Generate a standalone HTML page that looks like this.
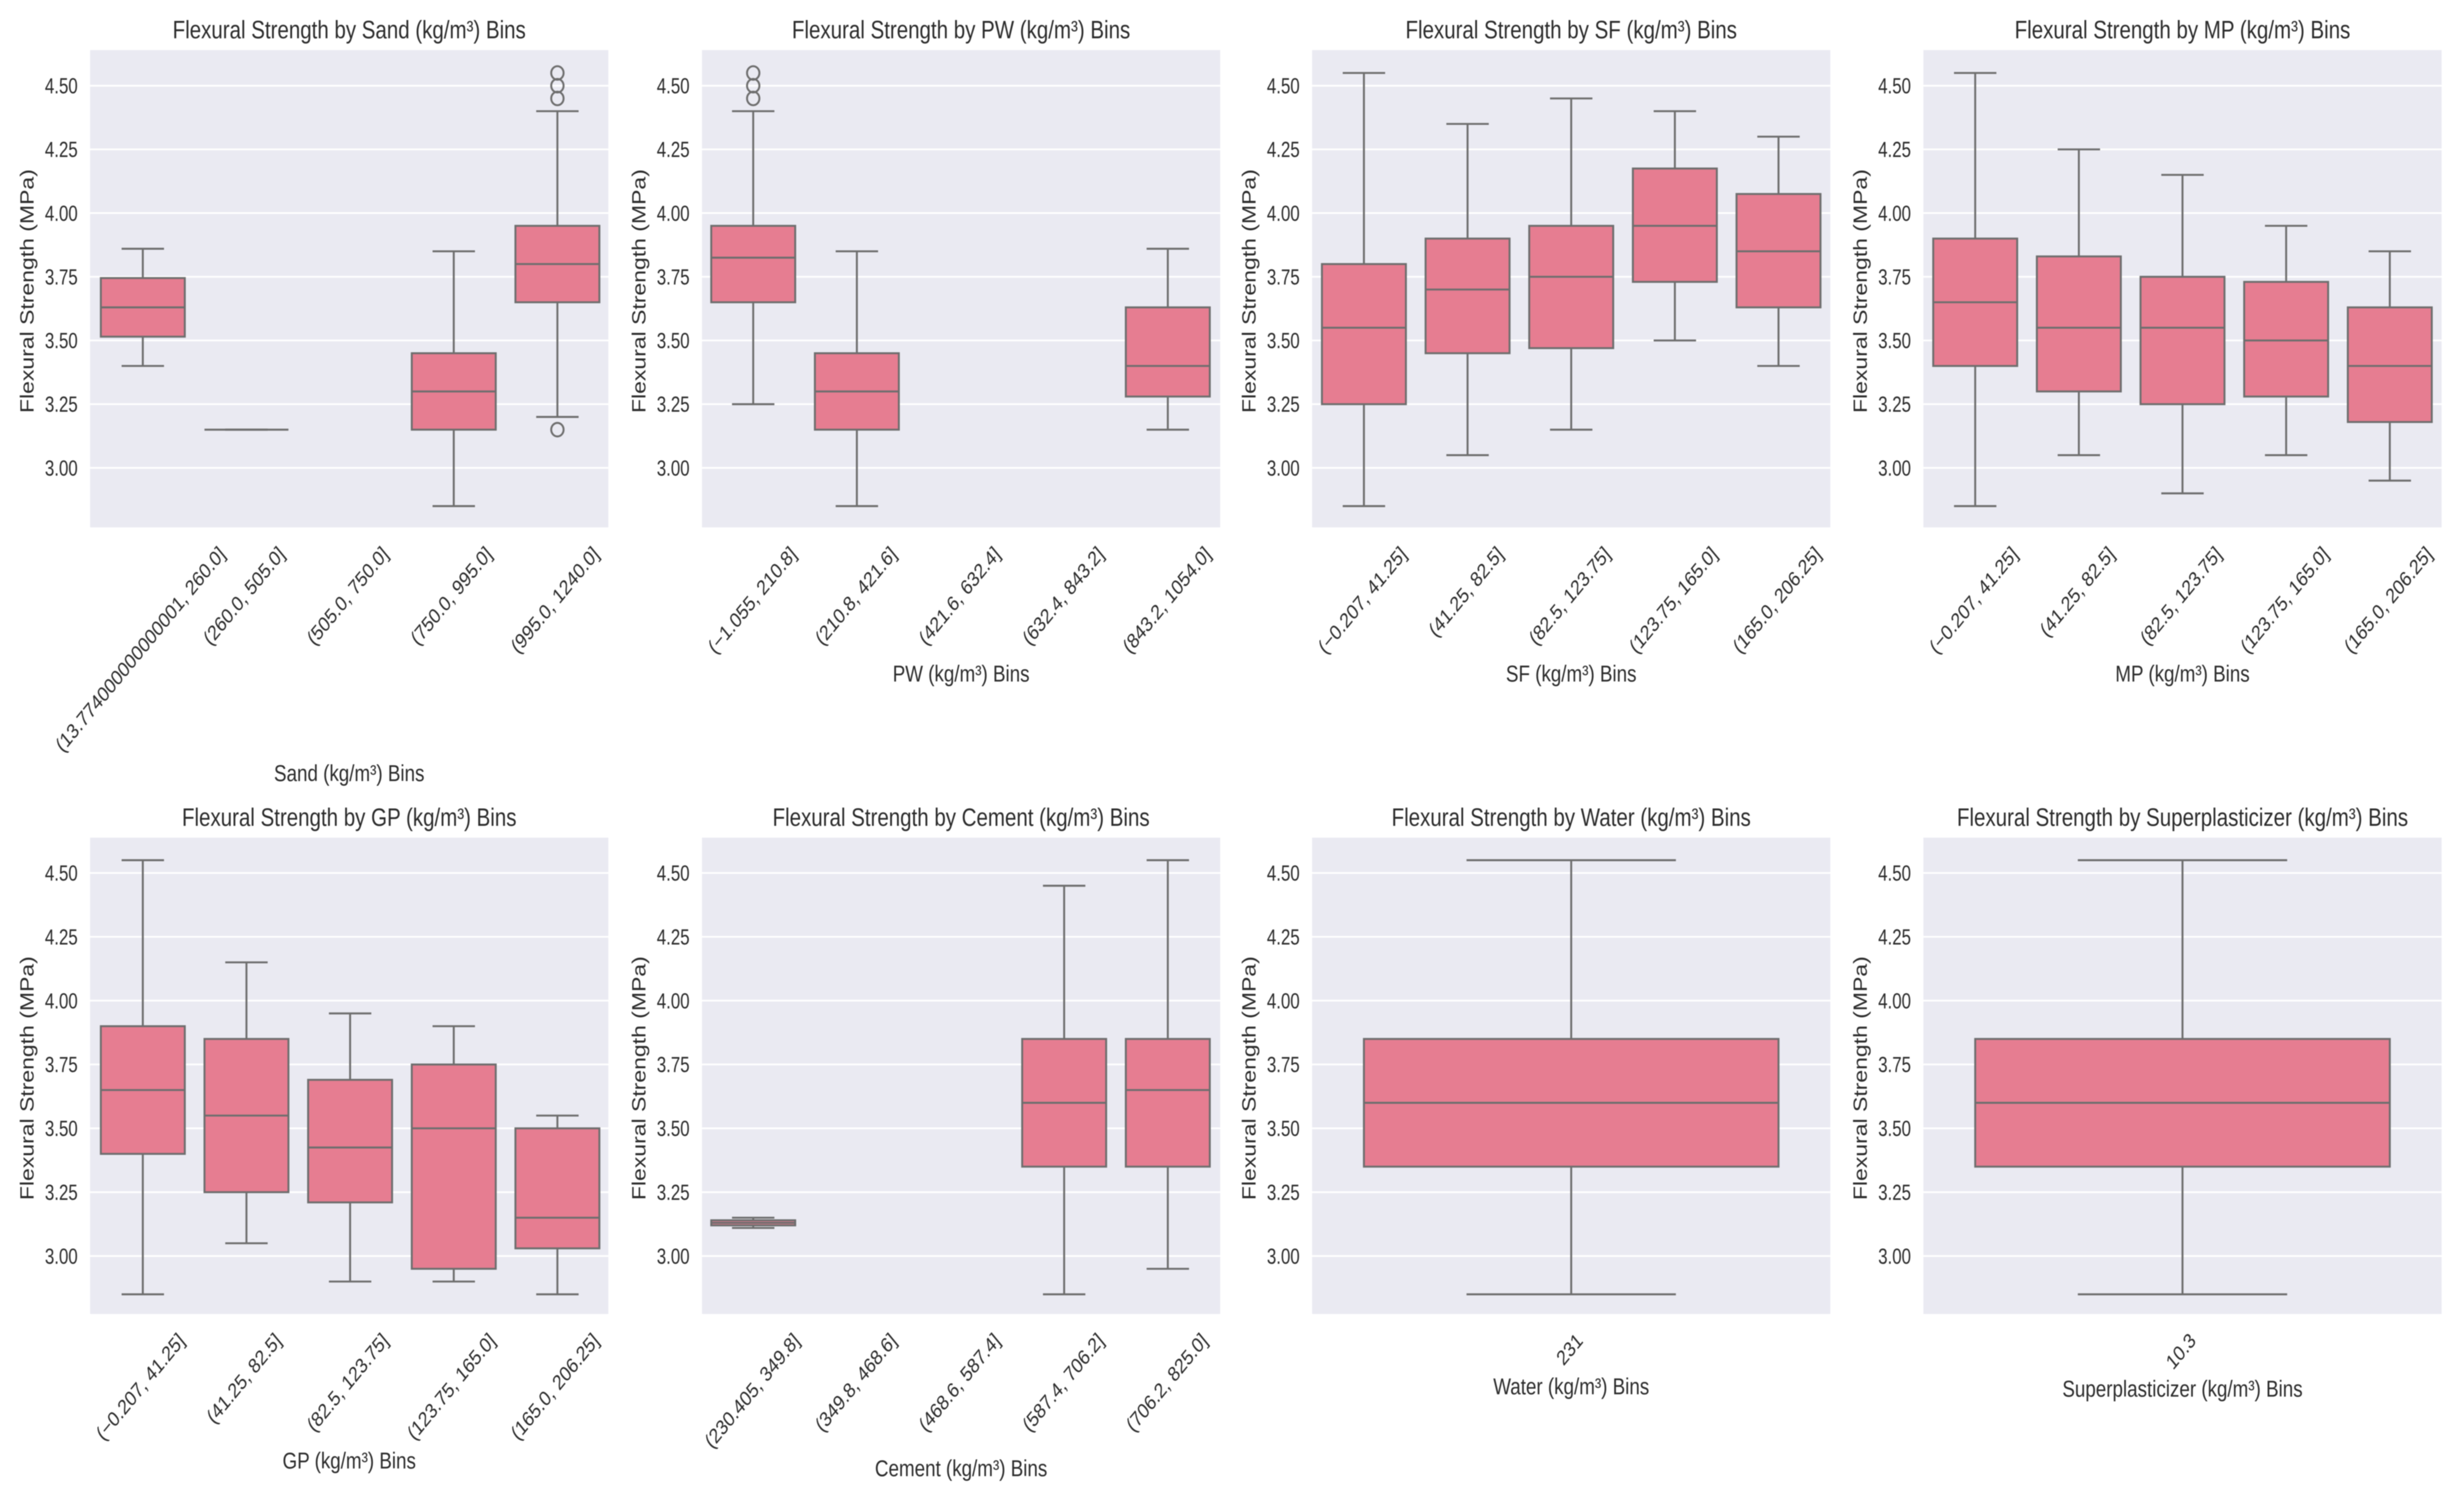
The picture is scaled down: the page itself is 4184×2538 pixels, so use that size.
<!DOCTYPE html>
<html lang="en">
<head>
<meta charset="utf-8">
<title>Flexural Strength by Bins</title>
<style>
html,body{margin:0;padding:0;background:#fff;}
body{width:4184px;height:2538px;overflow:hidden;}
svg{display:block;filter:blur(0.7px);}
text{font-family:"Liberation Sans",sans-serif;fill:#2b2b2b;}
</style>
</head>
<body>
<svg id="figure" xmlns="http://www.w3.org/2000/svg" width="4184" height="2538" viewBox="0 0 4184 2538"></svg>
<script>
// ---- data: [whisker low, Q1, median, Q3, whisker high]; null = empty bin ----
const yTicks = [3.00, 3.25, 3.50, 3.75, 4.00, 4.25, 4.50];

const sandBins = ["(13.774000000000001, 260.0]", "(260.0, 505.0]", "(505.0, 750.0]", "(750.0, 995.0]", "(995.0, 1240.0]"];
const sandStats = [[3.40, 3.515, 3.63, 3.745, 3.86], [3.15, 3.15, 3.15, 3.15, 3.15], null, [2.85, 3.15, 3.30, 3.45, 3.85], [3.20, 3.65, 3.80, 3.95, 4.40]];
const sandFliers = [[], [], [], [], [3.15, 4.45, 4.50, 4.55]];

const pwBins = ["(\u22121.055, 210.8]", "(210.8, 421.6]", "(421.6, 632.4]", "(632.4, 843.2]", "(843.2, 1054.0]"];
const pwStats = [[3.25, 3.65, 3.825, 3.95, 4.40], [2.85, 3.15, 3.30, 3.45, 3.85], null, null, [3.15, 3.28, 3.40, 3.63, 3.86]];
const pwFliers = [[4.45, 4.50, 4.55], [], [], [], []];

const sfBins = ["(\u22120.207, 41.25]", "(41.25, 82.5]", "(82.5, 123.75]", "(123.75, 165.0]", "(165.0, 206.25]"];
const sfStats = [[2.85, 3.25, 3.55, 3.80, 4.55], [3.05, 3.45, 3.70, 3.90, 4.35], [3.15, 3.47, 3.75, 3.95, 4.45], [3.50, 3.73, 3.95, 4.175, 4.40], [3.40, 3.63, 3.85, 4.075, 4.30]];

const mpBins = ["(\u22120.207, 41.25]", "(41.25, 82.5]", "(82.5, 123.75]", "(123.75, 165.0]", "(165.0, 206.25]"];
const mpStats = [[2.85, 3.40, 3.65, 3.90, 4.55], [3.05, 3.30, 3.55, 3.83, 4.25], [2.90, 3.25, 3.55, 3.75, 4.15], [3.05, 3.28, 3.50, 3.73, 3.95], [2.95, 3.18, 3.40, 3.63, 3.85]];

const gpBins = ["(\u22120.207, 41.25]", "(41.25, 82.5]", "(82.5, 123.75]", "(123.75, 165.0]", "(165.0, 206.25]"];
const gpStats = [[2.85, 3.40, 3.65, 3.90, 4.55], [3.05, 3.25, 3.55, 3.85, 4.15], [2.90, 3.21, 3.425, 3.69, 3.95], [2.90, 2.95, 3.50, 3.75, 3.90], [2.85, 3.03, 3.15, 3.50, 3.55]];

const cementBins = ["(230.405, 349.8]", "(349.8, 468.6]", "(468.6, 587.4]", "(587.4, 706.2]", "(706.2, 825.0]"];
const cementStats = [[3.11, 3.12, 3.13, 3.14, 3.15], null, null, [2.85, 3.35, 3.60, 3.85, 4.45], [2.95, 3.35, 3.65, 3.85, 4.55]];

const waterBins = ["231"];
const waterStats = [[2.85, 3.35, 3.60, 3.85, 4.55]];

const spBins = ["10.3"];
const spStats = [[2.85, 3.35, 3.60, 3.85, 4.55]];

const noFliers = [];

// ---- layout ----
const hScale = 0.825;
const colLeft = [153, 1192, 2228, 3266];
const colMarkShift = [1.5, -1, 0, 0];
const axW = 880;
const rowTop = [85, 1422];
const rowBottom = [895.3, 2230.7];
const rowGrid300 = [794.3, 2132.3];
const rowGrid450 = [145.5, 1482];
const NS = "http://www.w3.org/2000/svg";
const FILL = "#e67d91", LINE = "#6e6e6e", AXBG = "#eaeaf2";
const LW = 3.3;

const panels = [
  {key:"sand", title:"Flexural Strength by Sand (kg/m\u00b3) Bins", xLabel:"Sand (kg/m\u00b3) Bins", bins:sandBins, stats:sandStats, fliers:sandFliers, col:0, row:0, labelY:1313},
  {key:"pw", title:"Flexural Strength by PW (kg/m\u00b3) Bins", xLabel:"PW (kg/m\u00b3) Bins", bins:pwBins, stats:pwStats, fliers:pwFliers, col:1, row:0, labelY:1144},
  {key:"sf", title:"Flexural Strength by SF (kg/m\u00b3) Bins", xLabel:"SF (kg/m\u00b3) Bins", bins:sfBins, stats:sfStats, fliers:noFliers, col:2, row:0, labelY:1144},
  {key:"mp", title:"Flexural Strength by MP (kg/m\u00b3) Bins", xLabel:"MP (kg/m\u00b3) Bins", bins:mpBins, stats:mpStats, fliers:noFliers, col:3, row:0, labelY:1144},
  {key:"gp", title:"Flexural Strength by GP (kg/m\u00b3) Bins", xLabel:"GP (kg/m\u00b3) Bins", bins:gpBins, stats:gpStats, fliers:noFliers, col:0, row:1, labelY:2480},
  {key:"cement", title:"Flexural Strength by Cement (kg/m\u00b3) Bins", xLabel:"Cement (kg/m\u00b3) Bins", bins:cementBins, stats:cementStats, fliers:noFliers, col:1, row:1, labelY:2493},
  {key:"water", title:"Flexural Strength by Water (kg/m\u00b3) Bins", xLabel:"Water (kg/m\u00b3) Bins", bins:waterBins, stats:waterStats, fliers:noFliers, col:2, row:1, labelY:2354},
  {key:"superplasticizer", title:"Flexural Strength by Superplasticizer (kg/m\u00b3) Bins", xLabel:"Superplasticizer (kg/m\u00b3) Bins", bins:spBins, stats:spStats, fliers:noFliers, col:3, row:1, labelY:2358}
];

// ---- helpers ----
function mk(tag, parent, props) {
  const el = document.createElementNS(NS, tag);
  for (const k in props) el.setAttribute(k, props[k]);
  parent.appendChild(el);
  return el;
}
function seg(parent, x1, y1, x2, y2) {
  return mk("line", parent, {x1:x1, y1:y1, x2:x2, y2:y2, stroke:LINE, "stroke-width":LW});
}
function label(parent, str, x, y, size, rot, anchor, sx) {
  const el = mk("text", parent, {
    transform:"translate(" + x + "," + y + ") scale(" + sx + ",1) rotate(" + rot + ")",
    "font-size":size, "text-anchor":anchor, x:0, y:0
  });
  el.textContent = str;
  return el;
}

const root = document.getElementById("figure");
const bg = mk("rect", root, {x:0, y:0, width:4184, height:2538, fill:"#ffffff"});



panels.forEach(function (p) {
  const left = colLeft[p.col], top = rowTop[p.row], bottom = rowBottom[p.row];
  const n = p.bins.length;
  const bandW = axW / n;
  const y3 = rowGrid300[p.row], y45 = rowGrid450[p.row];
  const xScale = function (i) { return left + (n > 1 ? colMarkShift[p.col] : 0) + bandW * (i + 0.5); };
  const yScale = function (v) { return y3 + (v - 3) / 1.5 * (y45 - y3); };

  const g = mk("g", root, {});
  
  

  const plot = mk("rect", g, {x:left, y:top, width:axW, height:bottom - top, fill:AXBG});
  
  

  yTicks.forEach(function (t) {
    const y = yScale(t);
    const grid = mk("line", g, {x1:left, x2:left + axW, y1:y, y2:y, stroke:"#ffffff", "stroke-width":3});
    
    
    const tick = label(g, t.toFixed(2), left - 21, y + 13, 37, 0, "end", 0.775);
    
    
  });

  p.stats.forEach(function (s, i) {
    if (!s) return;
    const cx = xScale(i);
    const boxW = n > 1 ? bandW * 0.81 : bandW * 0.8, capW = boxW * (n > 1 ? 0.505 : 0.505);
    const box = mk("g", g, {});
    
    

    const whiskerLow = seg(box, cx, yScale(s[1]), cx, yScale(s[0]));
    
    
    const whiskerHigh = seg(box, cx, yScale(s[3]), cx, yScale(s[4]));
    
    
    const capLow = seg(box, cx - capW / 2, yScale(s[0]), cx + capW / 2, yScale(s[0]));
    
    
    const capHigh = seg(box, cx - capW / 2, yScale(s[4]), cx + capW / 2, yScale(s[4]));
    
    

    const body = mk("rect", box, {
      x:cx - boxW / 2, y:yScale(s[3]), width:boxW, height:yScale(s[1]) - yScale(s[3]),
      fill:FILL, stroke:LINE, "stroke-width":LW
    });
    
    

    const median = seg(box, cx - boxW / 2, yScale(s[2]), cx + boxW / 2, yScale(s[2]));
    
    

    ((p.fliers[i]) || []).forEach(function (v) {
      const dot = mk("ellipse", box, {cx:cx, cy:yScale(v), rx:10.5, ry:11.5, fill:"none", stroke:LINE, "stroke-width":LW});
      
      
    });
  });

  p.bins.forEach(function (b, i) {
    const size = 35.5;
    const el = label(g, b, 0, 0, size, -45, "middle", hScale);
    
    
    const len = el.getComputedTextLength();
    const half = (len + size * 1.0) * Math.SQRT1_2 / 2;
    const cy = bottom + 26 + half;
    el.setAttribute('y', size * 0.35);
    el.setAttribute('transform', "translate(" + (left + bandW * (i + 0.5) - 3) + "," + cy + ") scale(" + hScale + ",1) rotate(-45)");
  });

  const ttl = label(g, p.title, left + axW / 2, top - 20, 42.2, 0, "middle", hScale);
  
  

  const xl = label(g, p.xLabel, left + axW / 2, p.labelY + 13, 38.7, 0, "middle", hScale);
  
  

  const yl = label(g, "Flexural Strength (MPa)", left - 96, top + (bottom - top) / 2 + 4, 39, -90, "middle", hScale);
  
  
});
</script>
</body>
</html>
